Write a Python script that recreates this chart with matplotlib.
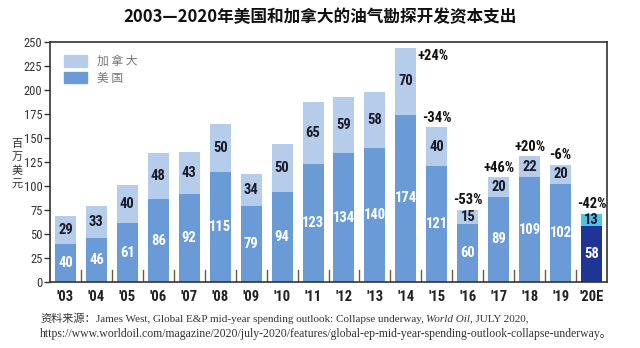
import matplotlib
matplotlib.use("Agg")
import matplotlib.pyplot as plt
from matplotlib import font_manager
from matplotlib.font_manager import FontProperties
from matplotlib.patches import Patch

years = ["'03", "'04", "'05", "'06", "'07", "'08", "'09", "'10", "'11", "'12",
         "'13", "'14", "'15", "'16", "'17", "'18", "'19", "'20E"]
us = [40, 46, 61, 86, 92, 115, 79, 94, 123, 134, 140, 174, 121, 60, 89, 109, 102, 58]
canada = [29, 33, 40, 48, 43, 50, 34, 50, 65, 59, 58, 70, 40, 15, 20, 22, 20, 13]
pct_idx = [11, 12, 13, 14, 15, 16, 17]
pct_labels = ["+24%", "-34%", "-53%", "+46%", "+20%", "-6%", "-42%"]
yticks = [0, 25, 50, 75, 100, 125, 150, 175, 200, 225, 250]

# ---- find a condensed sans font if available ----
def find_condensed(bold):
    prefs = ["Roboto Condensed", "Liberation Sans Narrow", "DejaVu Sans Condensed",
             "Open Sans Condensed", "Noto Sans Condensed", "Arial Narrow"]
    best = None
    best_rank = 99
    for f in font_manager.fontManager.ttflist:
        fn = f.fname.replace("-", " ").replace("_", " ")
        lname = (f.name + " " + fn).lower()
        if "serif" in lname.replace("sans serif", "") and "sans" not in lname:
            continue
        if "mono" in lname or "italic" in lname or "oblique" in lname:
            continue
        cond = ("condensed" in lname or "narrow" in lname or
                f.stretch in ("condensed", "semi-condensed", "extra-condensed"))
        if not cond:
            continue
        isbold = ("bold" in lname) or (isinstance(f.weight, int) and f.weight >= 600) or f.weight == "bold"
        if isbold != bold:
            continue
        rank = 50
        for k, p in enumerate(prefs):
            if p.lower().replace(" ", "") in lname.replace(" ", ""):
                rank = k
                break
        if rank < best_rank:
            best_rank = rank
            best = f.fname
    return best

fb = find_condensed(True)
fr = find_condensed(False)
FP_B = FontProperties(fname=fb) if fb else FontProperties(family="Roboto", weight="bold")
FP_R = FontProperties(fname=fr) if fr else FontProperties(family="Roboto")

CJK = "Noto Sans CJK SC"

c_us = "#6b9bd6"
c_ca = "#b5cdea"
c_us_e = "#1f3596"
c_ca_e = "#4cc4ea"

fig = plt.figure(figsize=(6.4, 3.48), dpi=100)
ax = fig.add_axes([50/640, 1-282/348, 557/640, 240/348])

x = list(range(len(years)))
us_cols = [c_us]*(len(years)-1) + [c_us_e]
ca_cols = [c_ca]*(len(years)-1) + [c_ca_e]
w = 0.68
ax.bar(x, us, width=w, color=us_cols, zorder=2)
ax.bar(x, canada, bottom=us, width=w, color=ca_cols, zorder=2)

def fp(base, size):
    p = base.copy()
    p.set_size(size)
    return p

for i in x:
    ax.text(i, us[i]/2, str(us[i]), ha="center", va="center", color="white",
            fontproperties=fp(FP_B, 10.5), zorder=3)
    ax.text(i, us[i] + canada[i]/2, str(canada[i]), ha="center", va="center",
            color="#1a1a2a", fontproperties=fp(FP_B, 10.5), zorder=3)

for i, lab in zip(pct_idx, pct_labels):
    top = us[i] + canada[i]
    if top > 220:
        ax.text(i + 0.38, top - 9, lab, ha="left", va="center", color="#111111",
                fontproperties=fp(FP_B, 10.5))
    else:
        ax.text(i, top + 10, lab, ha="center", va="center", color="#111111",
                fontproperties=fp(FP_B, 10.5))

# small tick marks between bars
for i in range(len(years)-1):
    ax.plot([i + 0.5, i + 0.5], [0, 12], color="#6b5a48", lw=1.0, zorder=1)

ax.set_xlim(-0.5, len(years) - 0.5)
ax.set_ylim(0, 250)
ax.set_yticks(yticks)
ax.set_yticklabels([str(v) for v in yticks])
for t in ax.get_yticklabels():
    t.set_fontproperties(fp(FP_R, 9))
ax.set_xticks(x)
ax.set_xticklabels(years)
for t in ax.get_xticklabels():
    t.set_fontproperties(fp(FP_B, 10.5))
ax.tick_params(axis="x", length=0, pad=6, colors="#222222")
ax.tick_params(axis="y", length=4, width=1, direction="out", colors="#333333", pad=1.5)
for s in ax.spines.values():
    s.set_color("#333333")
    s.set_linewidth(1.2)

leg = ax.legend(handles=[Patch(color=c_ca, label="加 拿 大"), Patch(color=c_us, label="美 国")],
                loc="upper left", frameon=False, prop={"family": CJK, "size": 8.5},
                handlelength=2.0, handleheight=1.1, borderaxespad=0.3, labelspacing=0.3,
                bbox_to_anchor=(0.01, 0.98))
for t in leg.get_texts():
    t.set_color("#777777")

fig.text(17/640, 1-164/348, "百\n万\n美\n元", ha="center", va="center",
         fontsize=8, family=CJK, color="#333333", linespacing=1.4)

fig.text(0.5, 1-17/348, "2003—2020年美国和加拿大的油气勘探开发资本支出", ha="center", va="center",
         fontsize=12, fontweight="bold", family=[CJK, "DejaVu Sans"], color="#111111")

# source lines
renderer = fig.canvas.get_renderer()
y1 = 1 - 319/348
xpos = 40/640
pieces = [("资料来源：", dict(family=CJK, fontsize=8)),
          ("James West, Global E&P mid-year spending outlook: Collapse underway, ",
           dict(family="Liberation Serif", fontsize=8.0)),
          ("World Oil", dict(family="Liberation Serif", fontsize=8.0, style="italic")),
          (", JULY 2020,", dict(family="Liberation Serif", fontsize=8.0))]
for s, kw in pieces:
    t = fig.text(xpos, y1, s, ha="left", va="center", color="#333333", **kw)
    bb = t.get_window_extent(renderer=renderer)
    xpos += bb.width / fig.bbox.width
fig.text(40/640, 1-334/348,
         "https://www.worldoil.com/magazine/2020/july-2020/features/global-ep-mid-year-spending-outlook-collapse-underway\u3002",
         ha="left", va="center", fontsize=8.5, family=["Liberation Serif", CJK], color="#333333")

fig.savefig("out.png", dpi=100)
